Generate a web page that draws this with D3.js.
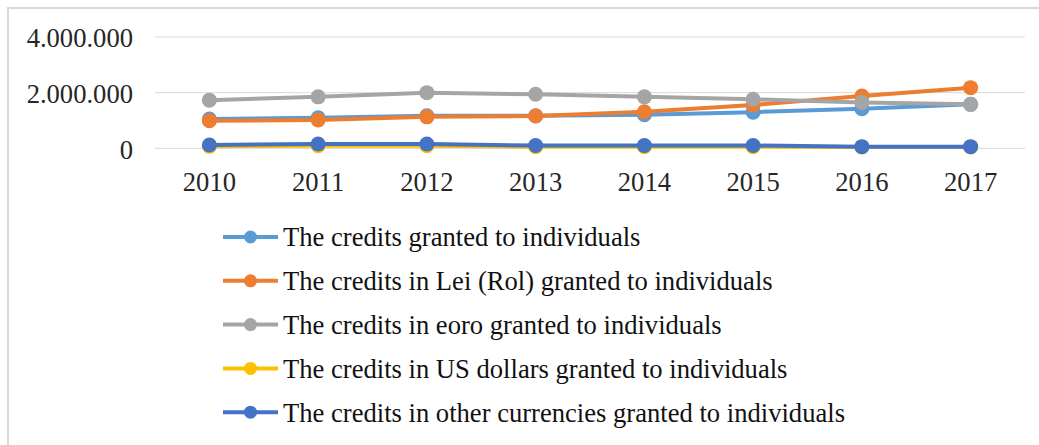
<!DOCTYPE html>
<html>
<head>
<meta charset="utf-8">
<script src="https://cdn.jsdelivr.net/npm/d3@7.9.0/dist/d3.min.js"></script>
<style>
  body { margin: 0; background: #fff; }
  svg { display: block; font-family: "Liberation Serif", "Times New Roman", serif; }
</style>
</head>
<body>
<svg id="chart" width="1039" height="445"></svg>
<script>
// years on the x axis
const years = ["2010", "2011", "2012", "2013", "2014", "2015", "2016", "2017"];
const yTicks = [0, 2000000, 4000000];

// series values
const totalCredits = [1050000, 1100000, 1170000, 1170000, 1210000, 1300000, 1420000, 1580000];
const leiCredits   = [990000, 1020000, 1130000, 1160000, 1310000, 1560000, 1880000, 2180000];
const euroCredits  = [1730000, 1850000, 2000000, 1940000, 1850000, 1760000, 1650000, 1580000];
const usdCredits   = [70000, 90000, 90000, 60000, 60000, 60000, 50000, 50000];
const otherCredits = [120000, 155000, 155000, 100000, 100000, 100000, 60000, 60000];

const seriesNames = [
  "The credits granted to individuals",
  "The credits in Lei (Rol) granted to individuals",
  "The credits in eoro granted to individuals",
  "The credits in US dollars granted to individuals",
  "The credits in other currencies granted to individuals"
];
const seriesColors = ["#5b9bd5", "#ed7d31", "#a5a5a5", "#ffc000", "#4472c4"];
const seriesValues = [totalCredits, leiCredits, euroCredits, usdCredits, otherCredits];

const series = seriesNames.map((name, i) => ({ name, color: seriesColors[i], values: seriesValues[i] }));

const svg = d3.select("#chart");

// outer frame
svg.append("rect")
  .attr("x", 8).attr("y", 8)
  .attr("width", 1040).attr("height", 445)
  .attr("fill", "none")
  .attr("stroke", "#d9d9d9")
  .attr("stroke-width", 2);

const x = d3.scaleBand().domain(years).range([155, 1025]);
const y = d3.scaleLinear().domain([0, 4000000]).range([148.3, 37]);

// gridlines
svg.append("g")
  .selectAll("line")
  .data(yTicks)
  .join("line")
  .attr("x1", 155).attr("x2", 1025)
  .attr("y1", d => y(d)).attr("y2", d => y(d))
  .attr("stroke", "#d9d9d9")
  .attr("stroke-width", 1);

// y labels
const fmt = d => d3.format(",")(d).replace(/,/g, ".");
svg.append("g")
  .selectAll("text")
  .data(yTicks)
  .join("text")
  .attr("x", 133)
  .attr("y", d => y(d) + 1)
  .attr("dy", "0.35em")
  .attr("text-anchor", "end")
  .attr("font-size", 26.6)
  .attr("fill", "#262626")
  .text(fmt);

// x labels
svg.append("g")
  .selectAll("text")
  .data(years)
  .join("text")
  .attr("x", d => x(d) + x.bandwidth() / 2)
  .attr("y", 182)
  .attr("dy", "0.35em")
  .attr("text-anchor", "middle")
  .attr("font-size", 26.6)
  .attr("fill", "#262626")
  .text(d => d);

const line = d3.line()
  .x((d, i) => x(years[i]) + x.bandwidth() / 2)
  .y(d => y(d));

// draw bottom-most series last so the order matches the original stacking
const drawOrder = [3, 4, 0, 1, 2];
drawOrder.forEach(k => {
  const s = series[k];
  const g = svg.append("g");
  g.append("path")
    .attr("d", line(s.values))
    .attr("fill", "none")
    .attr("stroke", s.color)
    .attr("stroke-width", 4)
    .attr("stroke-linejoin", "round");
  g.selectAll("circle")
    .data(s.values)
    .join("circle")
    .attr("cx", (d, i) => x(years[i]) + x.bandwidth() / 2)
    .attr("cy", d => y(d))
    .attr("r", 7.5)
    .attr("fill", s.color);
});

// legend
const legend = svg.append("g")
  .selectAll("g")
  .data(series)
  .join("g")
  .attr("transform", (d, i) => `translate(0, ${237 + i * 43.8})`);

legend.append("line")
  .attr("x1", 223).attr("x2", 278)
  .attr("stroke", d => d.color)
  .attr("stroke-width", 4);
legend.append("circle")
  .attr("cx", 250.5)
  .attr("r", 6.5)
  .attr("fill", d => d.color);
legend.append("text")
  .attr("x", 283)
  .attr("dy", "0.35em")
  .attr("font-size", 26.6)
  .attr("fill", "#111")
  .text(d => d.name);
</script>
</body>
</html>
